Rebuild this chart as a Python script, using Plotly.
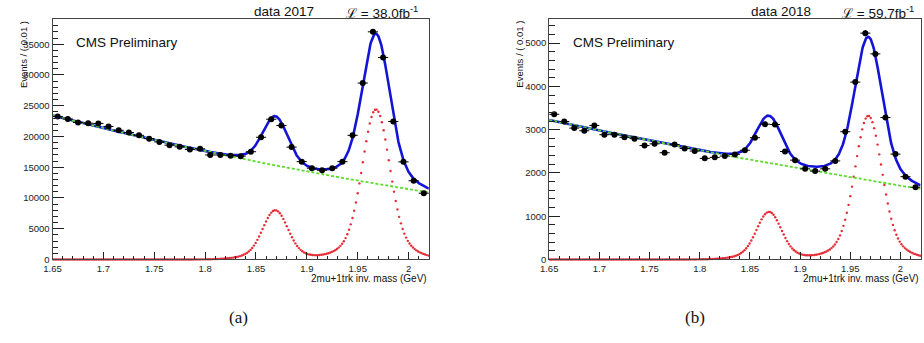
import numpy as np
import plotly.graph_objects as go

# ---------------- data ----------------
bin_centers = [1.655, 1.665, 1.675, 1.685, 1.695, 1.705, 1.715, 1.725, 1.735, 1.745,
               1.755, 1.765, 1.775, 1.785, 1.795, 1.805, 1.815, 1.825, 1.835, 1.845,
               1.855, 1.865, 1.875, 1.885, 1.895, 1.905, 1.915, 1.925, 1.935, 1.945,
               1.955, 1.965, 1.975, 1.985, 1.995, 2.005, 2.015]

events_2017 = [23240, 22850, 22280, 22160, 22120, 21630, 21000, 20640, 20190, 19650,
               19120, 18590, 18320, 17880, 18000, 16990, 16990, 16870, 16800, 17520,
               19870, 22800, 21790, 18270, 15910, 14840, 14520, 14840, 15910, 20190,
               28690, 37020, 32850, 22440, 15870, 12800, 10780]

events_2018 = [3355, 3189, 3036, 2975, 3098, 2884, 2884, 2825, 2793, 2633,
               2672, 2467, 2656, 2565, 2506, 2337, 2360, 2390, 2428, 2525,
               2815, 3128, 3120, 2495, 2296, 2095, 2042, 2095, 2278, 2953,
               4100, 5232, 4752, 3280, 2436, 1914, 1670]

# fit parameters (background polynomial in (m - 1.65), two peaks D+ and Ds)
fit_bkg_2017 = [23400, -41800, 21800]
fit_bkg_2018 = [3226, -4950, 1730]
peak_means = [1.869, 1.968]
peak_sigma_core = [0.0118, 0.0128]
peak_sigma_tail = [0.024, 0.027]
core_fraction = 0.84
peak_amp_2017 = [8000, 24400]
peak_amp_2018 = [1100, 3320]

x_tick_vals = [1.65, 1.7, 1.75, 1.8, 1.85, 1.9, 1.95, 2.0]
x_tick_text = ["1.65", "1.7", "1.75", "1.8", "1.85", "1.9", "1.95", "2"]
y_tick_vals_2017 = [0, 5000, 10000, 15000, 20000, 25000, 30000, 35000]
y_tick_vals_2018 = [0, 1000, 2000, 3000, 4000, 5000]

titles = ["data 2017", "data 2018"]
lumis = ["38.0", "59.7"]

# ---------------- helpers ----------------
W, H = 924, 343


def px(x):
    return x / W


def py(y):
    return 1 - y / H


def bkg(m, c):
    t = m - 1.65
    return c[0] + c[1] * t + c[2] * t * t


def signal(m, amps):
    s = np.zeros_like(m)
    for mu, sc, sw, a in zip(peak_means, peak_sigma_core, peak_sigma_tail, amps):
        s += a * (core_fraction * np.exp(-0.5 * ((m - mu) / sc) ** 2)
                  + (1 - core_fraction) * np.exp(-0.5 * ((m - mu) / sw) ** 2))
    return s


m_line = np.linspace(1.65, 2.02, 741)
m_dots = np.arange(1.6508, 2.02, 0.0017)

fig = go.Figure()

panels = [
    dict(ev=events_2017, bk=fit_bkg_2017, amp=peak_amp_2017, xa="x", ya="y"),
    dict(ev=events_2018, bk=fit_bkg_2018, amp=peak_amp_2018, xa="x2", ya="y2"),
]

for p in panels:
    ev = np.array(p["ev"], dtype=float)
    # signal component (red dotted)
    fig.add_trace(go.Scatter(
        x=m_dots, y=signal(m_dots, p["amp"]), mode="markers",
        marker=dict(color="rgb(228,45,55)", size=2.4),
        cliponaxis=False, xaxis=p["xa"], yaxis=p["ya"], hoverinfo="skip"))
    # total fit (blue)
    fig.add_trace(go.Scatter(
        x=m_line, y=bkg(m_line, p["bk"]) + signal(m_line, p["amp"]), mode="lines",
        line=dict(color="rgb(20,20,215)", width=2.6),
        xaxis=p["xa"], yaxis=p["ya"], hoverinfo="skip"))
    # background (green dashed)
    fig.add_trace(go.Scatter(
        x=m_line, y=bkg(m_line, p["bk"]), mode="lines",
        line=dict(color="rgb(90,220,40)", width=1.8, dash="3px,2px"),
        xaxis=p["xa"], yaxis=p["ya"], hoverinfo="skip"))
    # data
    fig.add_trace(go.Scatter(
        x=bin_centers, y=ev, mode="markers",
        marker=dict(color="black", size=6),
        error_x=dict(type="constant", value=0.005, color="black", thickness=1, width=0),
        error_y=dict(type="data", array=np.sqrt(ev), color="black", thickness=1, width=0),
        xaxis=p["xa"], yaxis=p["ya"]))

tick_font = dict(family="Liberation Sans, Arial, sans-serif", size=9.5, color="#222")


def xaxis_cfg(domain, anchor):
    return dict(domain=domain, anchor=anchor, range=[1.65, 2.02],
                tickmode="array", tickvals=x_tick_vals, ticktext=x_tick_text,
                ticks="inside", ticklen=7, tickwidth=1, tickcolor="#222",
                minor=dict(tickmode="array",
                           tickvals=list(np.round(np.arange(1.66, 2.02, 0.01), 3)),
                           ticks="inside", ticklen=3.5, tickwidth=1, tickcolor="#222"),
                showline=True, mirror=True, linecolor="#444", linewidth=1,
                showgrid=False, zeroline=False, tickfont=tick_font)


def yaxis_cfg(domain, anchor, rng, vals, minor_step):
    return dict(domain=domain, anchor=anchor, range=rng,
                tickmode="array", tickvals=vals, ticktext=[str(v) for v in vals],
                ticks="inside", ticklen=11, tickwidth=1, tickcolor="#222",
                minor=dict(tickmode="array",
                           tickvals=list(np.arange(0, rng[1], minor_step)),
                           ticks="inside", ticklen=5.5, tickwidth=1, tickcolor="#222"),
                showline=True, mirror=True, linecolor="#444", linewidth=1,
                showgrid=False, zeroline=False, tickfont=tick_font)


ydom = [py(263.3), py(19)]
fig.update_layout(
    width=W, height=H, margin=dict(l=0, r=0, t=0, b=0),
    paper_bgcolor="white", plot_bgcolor="white", showlegend=False,
    xaxis=xaxis_cfg([px(44), px(424)], "y"),
    yaxis=yaxis_cfg(ydom, "x", [0, 39150], y_tick_vals_2017, 1000),
    xaxis2=xaxis_cfg([px(545.5), px(920.5)], "y2"),
    yaxis2=yaxis_cfg(ydom, "x2", [0, 5565], y_tick_vals_2018, 200),
)

ann = []
txt_font = dict(family="Liberation Sans, Arial, sans-serif", color="#111")
for i, (x0, x1) in enumerate([(44, 424), (545.5, 921)]):
    # y title
    ann.append(dict(x=px(x0 - 30), y=py(19), xref="paper", yref="paper",
                    text="Events / ( 0.01 )", textangle=-90, showarrow=False,
                    xanchor="center", yanchor="top",
                    font=dict(size=9.5, **txt_font)))
    # x title
    ann.append(dict(x=px(x1), y=py(283), xref="paper", yref="paper",
                    text="2mu+1trk inv. mass (GeV)", showarrow=False,
                    xanchor="right", yanchor="middle",
                    font=dict(size=10, **txt_font)))
    # top texts
    ann.append(dict(x=px(x0 + 234), y=py(12), xref="paper", yref="paper",
                    text=titles[i], showarrow=False, xanchor="center", yanchor="middle",
                    font=dict(size=13.5, **txt_font)))
    ann.append(dict(x=px(x0 + 294), y=py(12), xref="paper", yref="paper",
                    text="ℒ = " + lumis[i] + "fb<sup>-1</sup>", showarrow=False,
                    xanchor="left", yanchor="middle",
                    font=dict(size=13.5, **txt_font)))
    # CMS Preliminary
    ann.append(dict(x=px(x0 + 22), y=py(43), xref="paper", yref="paper",
                    text="CMS Preliminary", showarrow=False,
                    xanchor="left", yanchor="middle",
                    font=dict(size=13.5, **txt_font)))

ann.append(dict(x=px(232), y=py(322), xref="paper", yref="paper", text="(a)",
                showarrow=False, xanchor="center", yanchor="middle",
                font=dict(family="Liberation Serif, DejaVu Serif, serif", size=17, color="#111")))
ann.append(dict(x=px(693), y=py(322), xref="paper", yref="paper", text="(b)",
                showarrow=False, xanchor="center", yanchor="middle",
                font=dict(family="Liberation Serif, DejaVu Serif, serif", size=17, color="#111")))

fig.update_layout(annotations=ann)
fig.write_html("out.html")
